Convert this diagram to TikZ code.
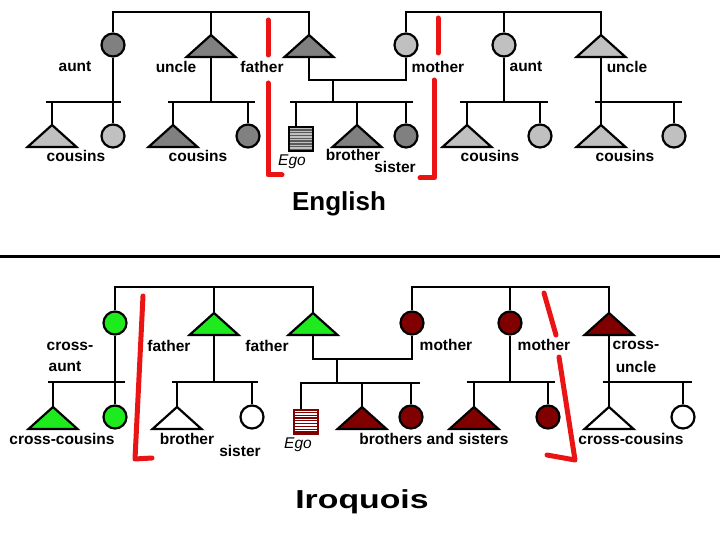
\documentclass[tikz,border=0pt]{standalone}
\usepackage{fontspec}
\setmainfont{Liberation Sans}
\usetikzlibrary{backgrounds}
\definecolor{dgray}{RGB}{128,128,128}
\definecolor{lgray}{RGB}{192,192,192}
\definecolor{igreen}{RGB}{30,235,30}
\definecolor{dred}{RGB}{128,0,0}
\definecolor{redm}{RGB}{235,20,20}
\definecolor{stripeg}{RGB}{90,90,90}
\newcommand{\kintri}[4]{%
  \coordinate (#1) at (#2,#3);
  \coordinate (#1b) at (#2,#3+22);
  \draw[trishape,fill=#4] (#1) -- ++(24.5,22) -- ++(-49,0) -- cycle;}
\begin{document}
\begin{tikzpicture}[x=1pt,y=-1pt,
  ln/.style={line width=2.6pt},
  circ/.style={circle,draw=black,line width=2.2pt,minimum size=23pt,inner sep=0pt},
  trishape/.style={draw=black,line width=2.2pt,line join=miter},
  lbl/.style={font=\fontsize{15.5}{17}\selectfont\bfseries,inner sep=0pt},
  egolbl/.style={font=\fontsize{15.5}{17}\selectfont\itshape,inner sep=0pt},
  redmark/.style={draw=redm,line width=5pt,line cap=round,line join=round},
  egosq/.style n args={3}{rectangle,draw=#1,line width=2pt,fill=#2,
    minimum width=24pt,minimum height=24pt,inner sep=0pt,
    path picture={\foreach \i in {1,...,8}{\draw[#3,line width=1.3pt]
      ([yshift=-\i*2.8pt+0.4pt]path picture bounding box.north west) -- ++(30pt,0);}}}
]
\useasboundingbox (0,0) rectangle (720,540);

% ===================== ENGLISH =====================
\node[circ,fill=dgray] (aL) at (113,45) {};
\kintri{uL}{211}{35}{dgray}
\kintri{fE}{309}{35}{dgray}
\node[circ,fill=lgray] (mE) at (406,45) {};
\node[circ,fill=lgray] (aR) at (504,45) {};
\kintri{uR}{601}{35}{lgray}

\kintri{c1}{52}{125}{lgray}
\node[circ,fill=lgray] (c2) at (113,136) {};
\kintri{c3}{173}{125}{dgray}
\node[circ,fill=dgray] (c4) at (248,136) {};
\node[egosq={black}{lgray}{stripeg}] (egoE) at (300.5,139.5) {};
\kintri{bE}{357}{125}{dgray}
\node[circ,fill=dgray] (sE) at (406,136) {};
\kintri{c5}{467}{125}{lgray}
\node[circ,fill=lgray] (c6) at (540,136) {};
\kintri{c7}{601}{125}{lgray}
\node[circ,fill=lgray] (c8) at (674,136) {};

\coordinate (jE1) at (211,12);
\coordinate (jE2) at (504,12);
\coordinate (jE3) at (333,80);
\coordinate (bA1) at (46,102);  \coordinate (bA2) at (121,102);
\coordinate (bU1) at (168,102); \coordinate (bU2) at (255,102);
\coordinate (bS1) at (290,102); \coordinate (bS2) at (413,102);
\coordinate (bR1) at (460,102); \coordinate (bR2) at (548,102);
\coordinate (bQ1) at (595,102); \coordinate (bQ2) at (682,102);
\coordinate (jEgoE) at (296,102);

\begin{scope}[on background layer]
\draw[ln] (aL.north) |- (jE1) -| (fE);
\draw[ln] (jE1) -- (uL);
\draw[ln] (mE.north) |- (jE2) -| (uR);
\draw[ln] (jE2) -- (aR.north);
\draw[ln] (aL.south) -- (c2.north);
\draw[ln] (bA1) -- (bA2);
\draw[ln] (bA1 -| c1) -- (c1);
\draw[ln] (uLb) -- (uLb |- bU1);
\draw[ln] (bU1) -- (bU2);
\draw[ln] (bU1 -| c3) -- (c3);
\draw[ln] (bU1 -| c4) -- (c4.north);
\draw[ln] (fEb) |- (jE3) -| (mE.south);
\draw[ln] (jE3) -- (jE3 |- bS1);
\draw[ln] (bS1) -- (bS2);
\draw[ln] (jEgoE) -- (jEgoE |- egoE.north);
\draw[ln] (bS1 -| bE) -- (bE);
\draw[ln] (bS1 -| sE) -- (sE.north);
\draw[ln] (aR.south) -- (aR.south |- bR1);
\draw[ln] (bR1) -- (bR2);
\draw[ln] (bR1 -| c5) -- (c5);
\draw[ln] (bR1 -| c6) -- (c6.north);
\draw[ln] (uRb) -- (c7);
\draw[ln] (bQ1) -- (bQ2);
\draw[ln] (bQ1 -| c8) -- (c8.north);
\end{scope}

\node[lbl] (tAunt1) at (75,67) {aunt};
\node[lbl] (tUncle1) at (176,67) {uncle};
\node[lbl] (tFather) at (262,67) {father};
\node[lbl] (tMother) at (438,67) {mother};
\node[lbl] (tAunt2) at (526,67) {aunt};
\node[lbl] (tUncle2) at (627,67) {uncle};
\node[lbl] (tCous1) at (76,156) {cousins};
\node[lbl] (tCous2) at (198,156) {cousins};
\node[egolbl] (tEgo1) at (292,162) {Ego};
\node[lbl] (tBro1) at (353,155) {brother};
\node[lbl] (tSis1) at (395,167) {sister};
\node[lbl] (tCous3) at (490,156) {cousins};
\node[lbl] (tCous4) at (625,156) {cousins};

\draw[redmark] (268,20) -- (268,55);
\draw[redmark] (268,83) -- (268,175) -- (282,175);
\draw[redmark] (438,18) -- (438,53);
\draw[redmark] (434,80) -- (434,178) -- (420,178);

\node[font=\fontsize{26}{30}\selectfont\bfseries,inner sep=0pt] (tEnglish) at (339,204) {English};

\draw[line width=3pt] (0,256) -- (720,256);

% ===================== IROQUOIS =====================
\node[circ,fill=igreen] (caI) at (115,323) {};
\kintri{f1I}{214}{313}{igreen}
\kintri{f2I}{313}{313}{igreen}
\node[circ,fill=dred] (m1I) at (412,323) {};
\node[circ,fill=dred] (m2I) at (510,323) {};
\kintri{cuI}{609}{313}{dred}

\kintri{d1}{53}{407}{igreen}
\node[circ,fill=igreen] (d2) at (115,417) {};
\kintri{d3}{177}{407}{white}
\node[circ,fill=white] (d4) at (252,417) {};
\node[egosq={dred}{white}{dred}] (egoI) at (305.5,422) {};
\kintri{bI}{362}{407}{dred}
\node[circ,fill=dred] (sI) at (411,417) {};
\kintri{d5}{474}{407}{dred}
\node[circ,fill=dred] (d6) at (548,417) {};
\kintri{d7}{609}{407}{white}
\node[circ,fill=white] (d8) at (683,417) {};

\coordinate (jI1) at (214,287);
\coordinate (jI2) at (510,287);
\coordinate (jI3) at (337,359);
\coordinate (gA1) at (48,382);  \coordinate (gA2) at (125,382);
\coordinate (gF1) at (172,382); \coordinate (gF2) at (258,382);
\coordinate (gS1) at (300,383); \coordinate (gS2) at (420,383);
\coordinate (gM1) at (467,382); \coordinate (gM2) at (555,382);
\coordinate (gU1) at (603,382); \coordinate (gU2) at (692,382);
\coordinate (jEgoI) at (301,383);

\begin{scope}[on background layer]
\draw[ln] (caI.north) |- (jI1) -| (f2I);
\draw[ln] (jI1) -- (f1I);
\draw[ln] (m1I.north) |- (jI2) -| (cuI);
\draw[ln] (jI2) -- (m2I.north);
\draw[ln] (caI.south) -- (d2.north);
\draw[ln] (gA1) -- (gA2);
\draw[ln] (gA1 -| d1) -- (d1);
\draw[ln] (f1Ib) -- (f1Ib |- gF1);
\draw[ln] (gF1) -- (gF2);
\draw[ln] (gF1 -| d3) -- (d3);
\draw[ln] (gF1 -| d4) -- (d4.north);
\draw[ln] (f2Ib) |- (jI3) -| (m1I.south);
\draw[ln] (jI3) -- (jI3 |- gS1);
\draw[ln] (gS1) -- (gS2);
\draw[ln] (jEgoI) -- (jEgoI |- egoI.north);
\draw[ln] (gS1 -| bI) -- (bI);
\draw[ln] (gS1 -| sI) -- (sI.north);
\draw[ln] (m2I.south) -- (m2I.south |- gM1);
\draw[ln] (gM1) -- (gM2);
\draw[ln] (gM1 -| d5) -- (d5);
\draw[ln] (gM1 -| d6) -- (d6.north);
\draw[ln] (cuIb) -- (d7);
\draw[ln] (gU1) -- (gU2);
\draw[ln] (gU1 -| d8) -- (d8.north);
\end{scope}

\node[lbl] (tCross1) at (70,346) {cross-};
\node[lbl] (tCross1b) at (65,367) {aunt};
\node[lbl] (tFa1) at (169,346) {father};
\node[lbl] (tFa2) at (267,346) {father};
\node[lbl] (tMo1) at (446,345) {mother};
\node[lbl] (tMo2) at (544,345) {mother};
\node[lbl] (tCross2) at (636,345) {cross-};
\node[lbl] (tCross2b) at (636,367) {uncle};
\node[lbl] (tCC1) at (62,439) {cross-cousins};
\node[lbl] (tBro2) at (187,439) {brother};
\node[lbl] (tSis2) at (240,451) {sister};
\node[egolbl] (tEgo2) at (298,445) {Ego};
\node[lbl] (tBS) at (434,439) {brothers and sisters};
\node[lbl] (tCC2) at (631,439) {cross-cousins};

\draw[redmark] (143,296) -- (135,459) -- (152,458);
\draw[redmark] (544,293) -- (556,335);
\draw[redmark] (559,357) -- (575,460) -- (547,455);

\node[font=\fontsize{26}{30}\selectfont\bfseries,inner sep=0pt] (tIroquois) at (362,502) {\scalebox{1.3}[1]{Iroquois}};
\end{tikzpicture}
\end{document}
